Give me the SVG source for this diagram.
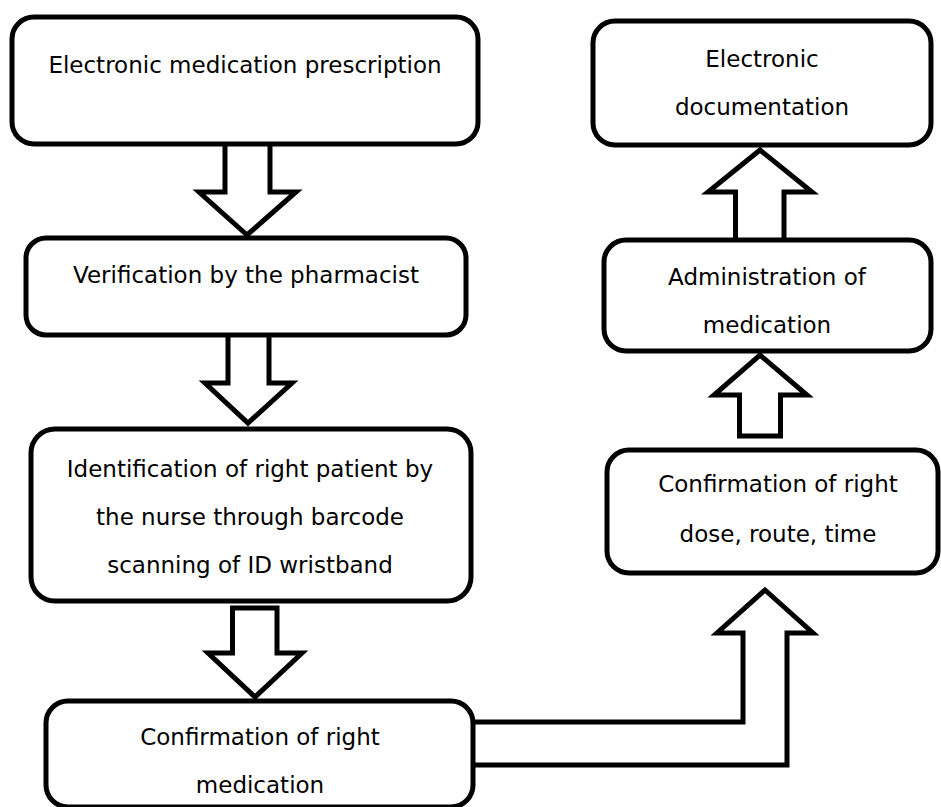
<svg xmlns="http://www.w3.org/2000/svg" width="941" height="807" viewBox="0 0 941 807">
<style>
.box{fill:#fff;stroke:#000;stroke-width:5}
.arr{fill:#fff;stroke:#000;stroke-width:5;stroke-linejoin:miter}
text{font-family:"DejaVu Sans","Liberation Sans",sans-serif;font-size:23px;fill:#000;text-anchor:middle}
</style>
<rect width="941" height="807" fill="#fff"/>
<g id="connectors">
<path class="arr" d="M225,144 V192 H199 L247,235 L296,192 H270 V144"/>
<path class="arr" d="M228,335 V383 H205 L248,423 L292,383 H269 V335"/>
<path class="arr" d="M232.5,608 V653 H208 L255,697 L302,653 H277 V608 Z"/>
<path class="arr" d="M473,722 H743 V633 H717 L765,590 L813,633 H787 V765 H473"/>
<path class="arr" d="M739.5,436 V395 H714 L760,355 L807,395 H780.5 V436 Z"/>
<path class="arr" d="M735.5,240 V192 H708 L760,150 L812,192 H784 V240"/>
</g>
<g id="n1"><rect class="box" x="12" y="17" width="466" height="127" rx="22"/><text x="245" y="73">Electronic medication prescription</text></g>
<g id="n2"><rect class="box" x="26" y="238" width="440" height="97" rx="20"/><text x="246" y="283">Verification by the pharmacist</text></g>
<g id="n3"><rect class="box" x="31" y="429" width="440" height="172" rx="24"/><text x="250" y="477">Identification of right patient by</text><text x="250" y="525">the nurse through barcode</text><text x="250" y="573">scanning of ID wristband</text></g>
<g id="n4"><rect class="box" x="46" y="701" width="427" height="106" rx="22"/><text x="260" y="745">Confirmation of right</text><text x="260" y="793">medication</text></g>
<g id="n5"><rect class="box" x="607" y="450" width="331" height="123" rx="22"/><text x="778" y="492">Confirmation of right</text><text x="778" y="542">dose, route, time</text></g>
<g id="n6"><rect class="box" x="604" y="240" width="327" height="111" rx="22"/><text x="767" y="285">Administration of</text><text x="767" y="333">medication</text></g>
<g id="n7"><rect class="box" x="593" y="21" width="338" height="124" rx="22"/><text x="762" y="67">Electronic</text><text x="762" y="115">documentation</text></g>
</svg>
